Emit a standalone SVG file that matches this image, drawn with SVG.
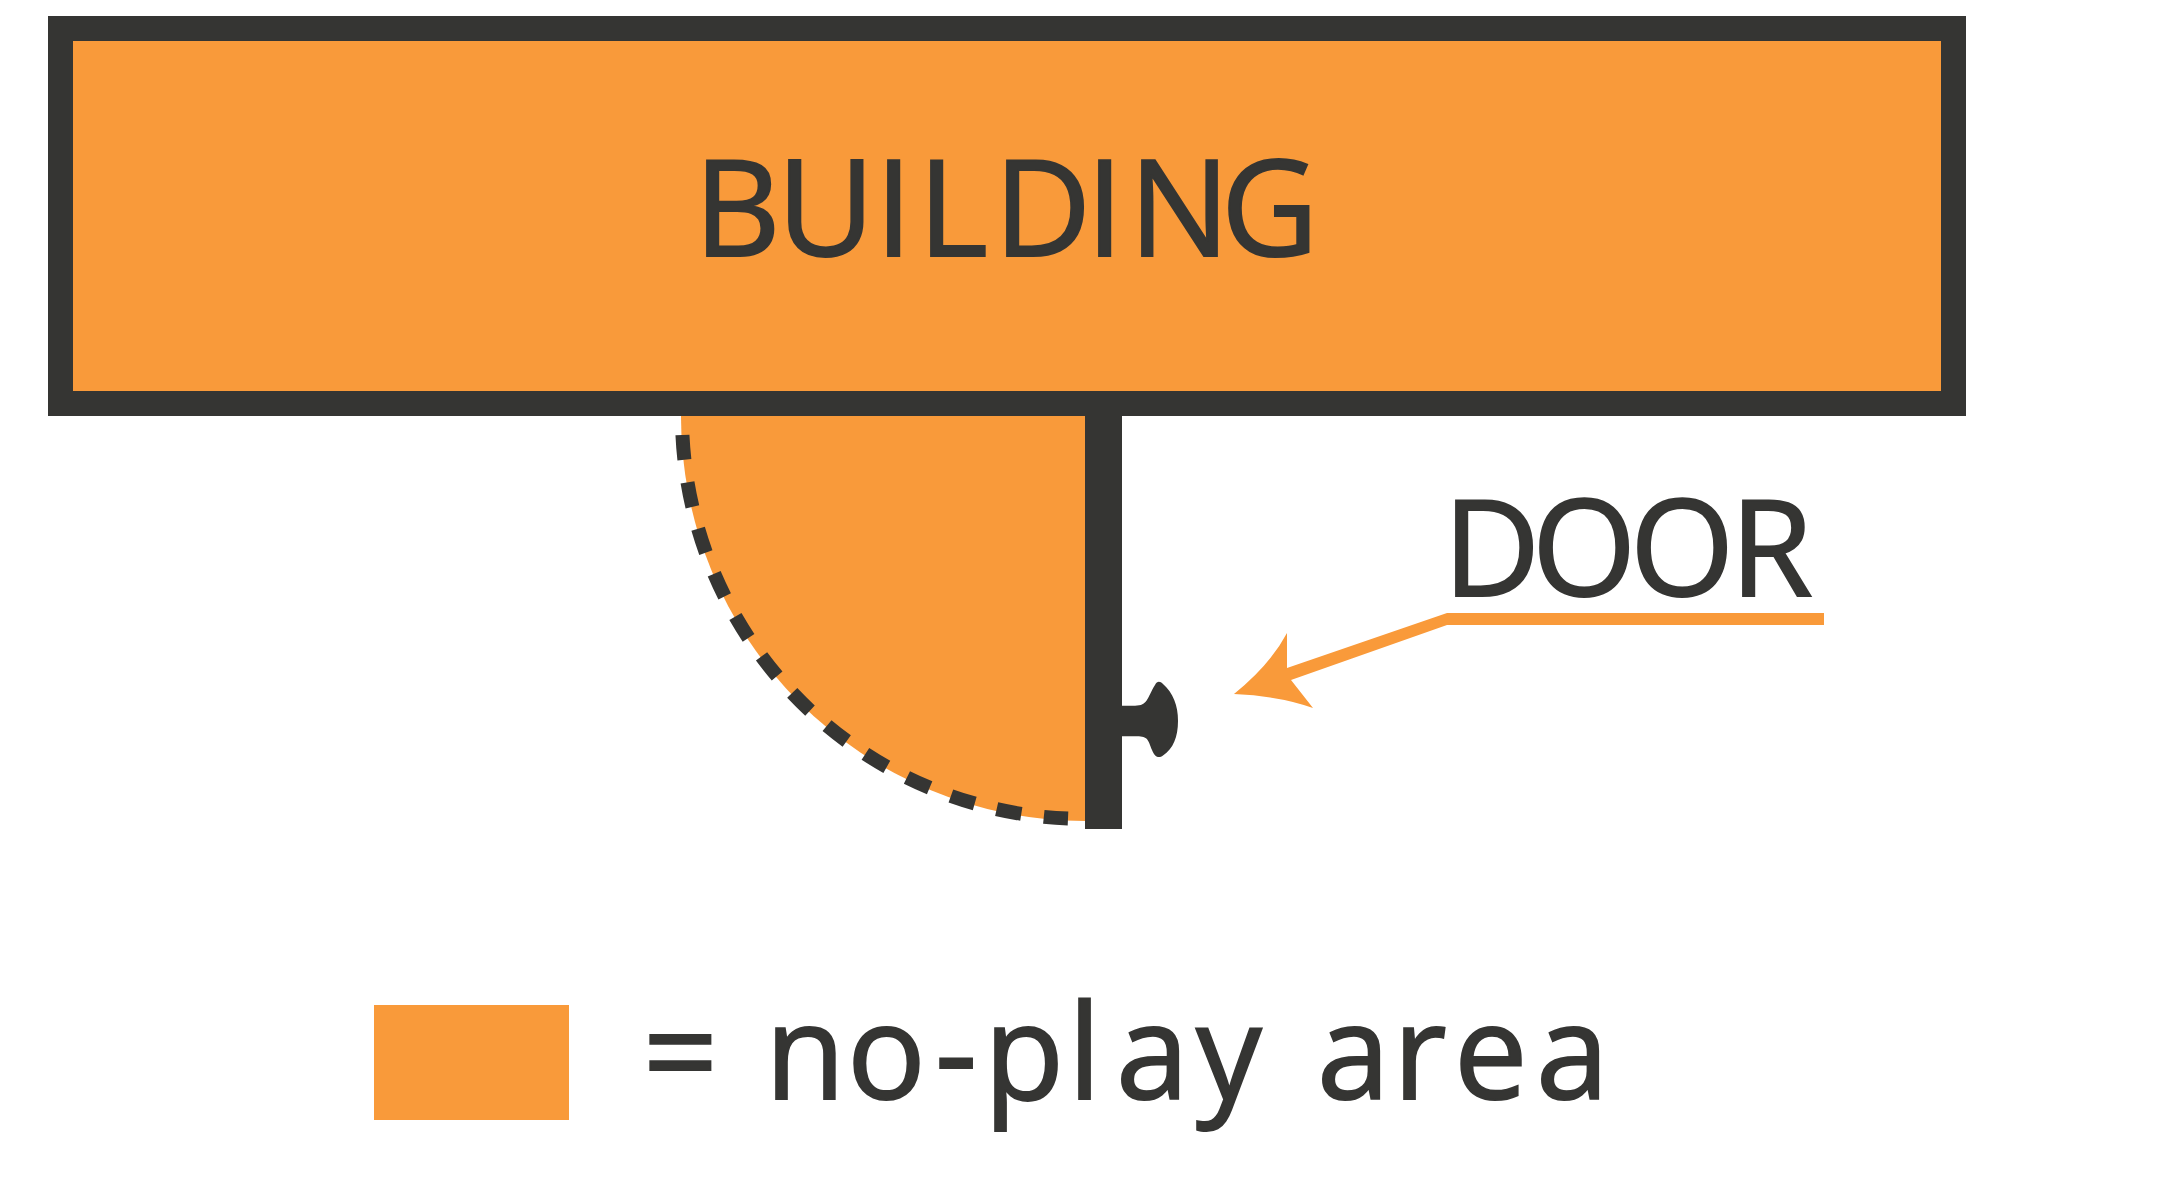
<svg xmlns="http://www.w3.org/2000/svg" width="2177" height="1183" viewBox="0 0 2177 1183">
<style>
.o{fill:#f99a3a}
.d{fill:#353533}
text{font-family:"Open Sans","Noto Sans","Liberation Sans",sans-serif;fill:#353533;stroke:#353533;stroke-width:2;font-weight:400}
.big{font-size:134px}
.leg{font-size:131px}
</style>
<rect width="2177" height="1183" fill="#fff"/>
<g id="swing">
<path class="o" d="M681 416H1085V821A404.500 404.500 0 0 1 681 416Z"/>
<path d="M682.450 435A403 403 0 0 0 1068 818.600" fill="none" stroke="#353533" stroke-width="14" stroke-dasharray="25 22.700"/>
</g>
<g id="building">
<rect x="60.500" y="28.500" width="1893" height="375" class="o" stroke="#353533" stroke-width="25"/>
<text class="big" x="694 777 875 918 994 1086 1129 1221" y="256">BUILDING</text>
</g>
<g id="door">
<path class="d" d="M1085 404H1122V705.700H1135C1148 705.700 1147 698 1155 685C1157 681 1160 681 1163 684C1173 693 1178 705 1178 721C1178 737 1173 749 1163 755.500C1159 758.500 1155 757.500 1152 750C1148 740 1148 736.300 1137 736.300H1122V829H1085Z"/>
</g>
<g id="connectors">
<path class="o" d="M1824 613H1447L1287 668V633Q1270 665 1234 694Q1280 696 1313 708L1291 680L1447 625H1824Z"/>
</g>
<g id="door-label"><text class="big" x="1443 1532 1630 1730" y="596">DOOR</text></g>
<g id="legend">
<rect class="o" x="374" y="1005" width="195" height="115"/>
<text class="leg" x="643 700 765 847 935 984 1068 1116 1196 1280 1317 1393 1454 1536" y="1099" xml:space="preserve">= no-play area</text>
</g>
</svg>
